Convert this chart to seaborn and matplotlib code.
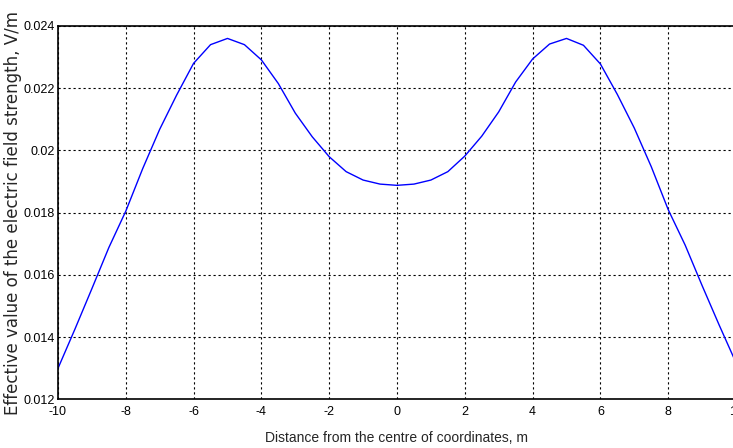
import numpy as np
import pandas as pd
import matplotlib
matplotlib.use("Agg")
import matplotlib.pyplot as plt
import seaborn as sns

# distance from centre, m
distance = [-10, -9.5, -9, -8.5, -8, -7.5, -7, -6.5, -6, -5.5, -5, -4.5, -4,
            -3.5, -3, -2.5, -2, -1.5, -1, -0.5, 0, 0.5, 1, 1.5, 2, 2.5, 3,
            3.5, 4, 4.5, 5, 5.5, 6, 6.5, 7, 7.5, 8, 8.5, 9, 9.5, 10]
# effective value of E field, V/m
field = [0.01300, 0.01426, 0.01556, 0.01688, 0.01805, 0.01942, 0.02068,
         0.02178, 0.02280, 0.02340, 0.02360, 0.02340, 0.02291, 0.02215,
         0.02120, 0.02044, 0.01980, 0.01932, 0.01905, 0.01892, 0.01888,
         0.01892, 0.01905, 0.01932, 0.01982, 0.02046, 0.02124, 0.02220,
         0.02294, 0.02342, 0.02360, 0.02338, 0.02278, 0.02180, 0.02072,
         0.01948, 0.01810, 0.01696, 0.01566, 0.01440, 0.01318]

xticks = [-10, -8, -6, -4, -2, 0, 2, 4, 6, 8, 10]
yticks = [0.012, 0.014, 0.016, 0.018, 0.02, 0.022, 0.024]
ytick_labels = ["0.012", "0.014", "0.016", "0.018", "0.02", "0.022", "0.024"]

df = pd.DataFrame({"x": distance, "E": field})

sns.set_style("white")
plt.rcParams["font.family"] = ["Liberation Sans", "DejaVu Sans"]

fig = plt.figure(figsize=(7.33, 4.48), dpi=100)
ax = fig.add_axes([0.0791, 0.1083, 0.925, 0.8337])

sns.lineplot(data=df, x="x", y="E", ax=ax, color="#0000ff", linewidth=1.0)

ax.set_xlim(-10, 10)
ax.set_ylim(0.012, 0.024)
ax.set_xticks(xticks)
ax.set_xticklabels([str(t) for t in xticks])
ax.set_yticks(yticks)
ax.set_yticklabels(ytick_labels)
ax.tick_params(direction="in", length=4, width=0.8, labelsize=9, pad=2,
               colors="black")
ax.tick_params(axis="x", pad=5)
ax.grid(True, color="black", linestyle=(0, (2, 2.5)), linewidth=0.8)

for s in ax.spines.values():
    s.set_color("black")
    s.set_linewidth(1.2)

ax.set_xlabel("Distance from the centre of coordinates, m", fontsize=10,
              labelpad=9)
ax.set_ylabel("Effective value of the electric field strength, V/m",
              fontsize=12, family=["DejaVu Sans"], labelpad=1)

fig.savefig("out.png", dpi=100)
